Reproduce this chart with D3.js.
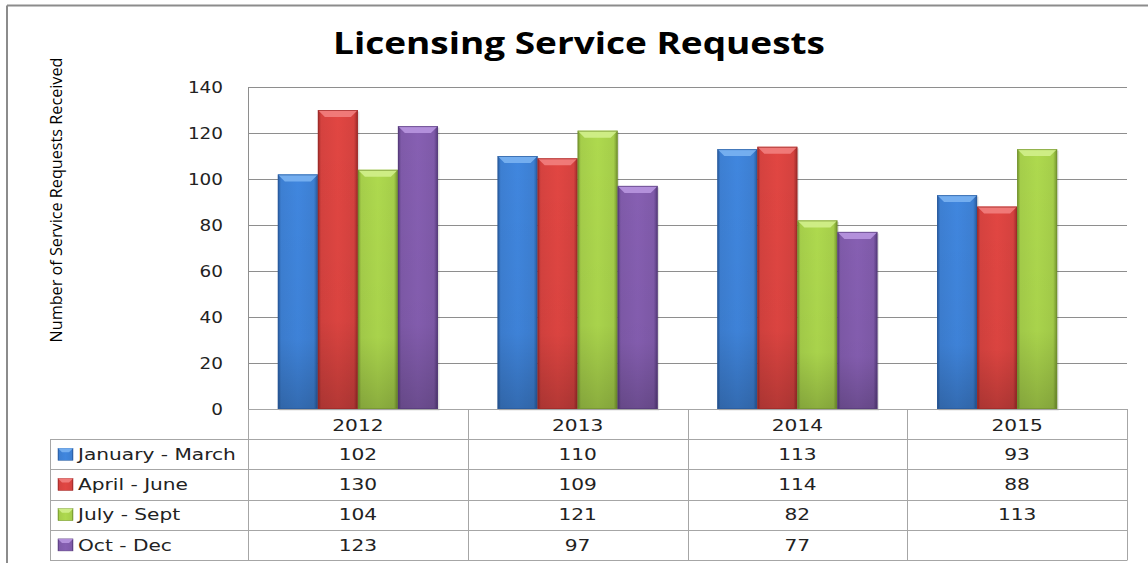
<!DOCTYPE html>
<html>
<head>
<meta charset="utf-8">
<script src="https://cdn.jsdelivr.net/npm/d3@7"></script>
<style>
  body { margin: 0; background: #fff; }
  svg { display: block; }
</style>
</head>
<body>
<div id="chart"></div>
<script>
// data
const years = ["2012", "2013", "2014", "2015"];
const quarters = ["January - March", "April - June", "July - Sept", "Oct - Dec"];
const janMar = [102, 110, 113, 93];
const aprJun = [130, 109, 114, 88];
const julSep = [104, 121, 82, 113];
const octDec = [123, 97, 77, null];
const yTicks = [0, 20, 40, 60, 80, 100, 120, 140];

const seriesValues = [janMar, aprJun, julSep, octDec];
// base, edge, top bevel
const colors = [
    { base: "#3d7fd2", edge: "#285a9c", top: "#7ab2f2", id: "gBlue" },
    { base: "#d5423f", edge: "#9c2a28", top: "#f2807e", id: "gRed" },
    { base: "#a5ce4a", edge: "#72922d", top: "#d2f08c", id: "gGreen" },
    { base: "#7f5aa9", edge: "#553a7b", top: "#b896e0", id: "gPurple" }
];

const W = 1148, H = 563;
const plot = { left: 248, right: 1127, top: 87, bottom: 409 };
const table = { left: 50, rowH: 30.2 };
const stretch = 1.26; // the picture's text is widened horizontally

let svg = d3.select("#chart")
    .append("svg")
    .attr("width", W)
    .attr("height", H);

// gradients for the bevelled bars
let defs = svg.append("defs");
colors.forEach(c => {
    let g = defs.append("linearGradient").attr("id", c.id)
        .attr("x1", "0%").attr("x2", "100%").attr("y1", "0%").attr("y2", "0%");
    g.append("stop").attr("offset", "0%").attr("stop-color", c.edge);
    g.append("stop").attr("offset", "8%").attr("stop-color", c.base);
    g.append("stop").attr("offset", "50%").attr("stop-color", d3.color(c.base).brighter(0.15));
    g.append("stop").attr("offset", "90%").attr("stop-color", c.base);
    g.append("stop").attr("offset", "100%").attr("stop-color", c.edge);
});
let shade = defs.append("linearGradient").attr("id", "shadeDown")
    .attr("x1", "0%").attr("x2", "0%").attr("y1", "0%").attr("y2", "100%");
shade.append("stop").attr("offset", "0%").attr("stop-color", "#000").attr("stop-opacity", 0);
shade.append("stop").attr("offset", "70%").attr("stop-color", "#000").attr("stop-opacity", 0.03);
shade.append("stop").attr("offset", "100%").attr("stop-color", "#000").attr("stop-opacity", 0.2);

// outer frame (left and top edges visible)
svg.append("line").attr("x1", 7).attr("x2", 7).attr("y1", 5.5).attr("y2", H)
    .attr("stroke", "#8c8c8c").attr("stroke-width", 2);
svg.append("line").attr("x1", 7).attr("x2", W).attr("y1", 5.5).attr("y2", 5.5)
    .attr("stroke", "#8c8c8c").attr("stroke-width", 2);

// title
svg.append("text")
    .attr("x", 579).attr("y", 54)
    .attr("text-anchor", "middle")
    .attr("textLength", 492)
    .attr("lengthAdjust", "spacingAndGlyphs")
    .style("font-family", "'Open Sans', sans-serif")
    .style("font-weight", "bold")
    .style("font-size", "30px")
    .text("Licensing Service Requests");

// scales
let yScale = d3.scaleLinear().domain([0, 140]).range([plot.bottom, plot.top]);
let xScale = d3.scaleBand().domain(years).range([plot.left, plot.right]);
let xInner = d3.scaleBand().domain(quarters).range([0, xScale.bandwidth()])
    .paddingInner(0).paddingOuter(0.745);

// gridlines
let grid = svg.append("g")
    .attr("transform", "translate(" + plot.left + ",0)")
    .call(d3.axisLeft(yScale).tickValues(yTicks).tickSize(-(plot.right - plot.left)).tickFormat(""));
grid.select(".domain").remove();
grid.selectAll(".tick line").attr("stroke", "#8e8e8e").attr("stroke-width", 1);

// y axis labels
let yAxis = svg.append("g")
    .attr("transform", "translate(" + plot.left + ",0)")
    .call(d3.axisLeft(yScale).tickValues(yTicks).tickSize(0).tickPadding(25));
yAxis.select(".domain").attr("stroke", "#8e8e8e");
yAxis.selectAll(".tick text")
    .attr("x", -25 / 1.15)
    .attr("transform", "scale(1.15,1)")
    .style("font-family", "'DejaVu Sans', Verdana, sans-serif")
    .style("font-size", "16px")
    .attr("fill", "#222");

// y axis title
svg.append("text")
    .attr("transform", "translate(62,200) rotate(-90)")
    .attr("text-anchor", "middle")
    .attr("textLength", 285)
    .attr("lengthAdjust", "spacingAndGlyphs")
    .style("font-family", "'Liberation Sans Narrow', 'Open Sans', sans-serif")
    .style("font-size", "16.5px")
    .style("font-weight", "500")
    .text("Number of Service Requests Received");

// bars
let barData = [];
years.forEach((yr, i) => {
    quarters.forEach((q, j) => {
        let v = seriesValues[j][i];
        if (v !== null) barData.push({ year: yr, quarter: q, value: v, s: j });
    });
});

let bars = svg.selectAll(".bar")
    .data(barData)
    .enter()
    .append("g")
    .attr("class", "bar");

bars.append("rect")
    .attr("x", d => xScale(d.year) + xInner(d.quarter) + 1.5)
    .attr("y", d => yScale(d.value) + 1.5)
    .attr("width", xInner.bandwidth())
    .attr("height", d => plot.bottom - yScale(d.value))
    .attr("fill", "#000").attr("opacity", 0.12);

bars.append("rect")
    .attr("x", d => xScale(d.year) + xInner(d.quarter))
    .attr("y", d => yScale(d.value))
    .attr("width", xInner.bandwidth())
    .attr("height", d => plot.bottom - yScale(d.value))
    .attr("fill", d => "url(#" + colors[d.s].id + ")");

bars.append("rect")
    .attr("x", d => xScale(d.year) + xInner(d.quarter))
    .attr("y", d => yScale(d.value))
    .attr("width", xInner.bandwidth())
    .attr("height", d => plot.bottom - yScale(d.value))
    .attr("fill", "url(#shadeDown)");

// top bevel
bars.append("path")
    .attr("d", d => {
        let x0 = xScale(d.year) + xInner(d.quarter);
        let x1 = x0 + xInner.bandwidth();
        let y0 = yScale(d.value);
        return "M" + x0 + "," + y0 + "L" + x1 + "," + y0 + "L" + (x1 - 7) + "," + (y0 + 7) +
            "L" + (x0 + 7) + "," + (y0 + 7) + "Z";
    })
    .attr("fill", d => colors[d.s].top)
    .attr("opacity", 0.9);

bars.append("rect")
    .attr("x", d => xScale(d.year) + xInner(d.quarter) + 0.5)
    .attr("y", d => yScale(d.value) + 0.5)
    .attr("width", xInner.bandwidth() - 1)
    .attr("height", d => plot.bottom - yScale(d.value) - 1)
    .attr("fill", "none")
    .attr("stroke", d => colors[d.s].edge)
    .attr("stroke-opacity", 0.7);

// data table
const lineCol = "#a6a6a6";
let tbl = svg.append("g").attr("class", "datatable");

// horizontal lines
tbl.append("line").attr("x1", plot.left).attr("x2", plot.right)
    .attr("y1", plot.bottom + 0.5).attr("y2", plot.bottom + 0.5).attr("stroke", lineCol);
d3.range(1, 6).forEach(i => {
    let yy = Math.round(plot.bottom + i * table.rowH) + 0.5;
    tbl.append("line").attr("x1", table.left).attr("x2", plot.right)
        .attr("y1", yy).attr("y2", yy).attr("stroke", lineCol);
});
// vertical lines
let tableBottom = Math.round(plot.bottom + 5 * table.rowH) + 0.5;
tbl.append("line").attr("x1", table.left + 0.5).attr("x2", table.left + 0.5)
    .attr("y1", Math.round(plot.bottom + table.rowH) + 0.5).attr("y2", tableBottom).attr("stroke", lineCol);
years.concat(["end"]).forEach(yr => {
    let xx = yr === "end" ? plot.right : xScale(yr);
    xx = Math.round(xx) + 0.5;
    tbl.append("line").attr("x1", xx).attr("x2", xx)
        .attr("y1", plot.bottom).attr("y2", tableBottom).attr("stroke", lineCol);
});

const tableFont = "'DejaVu Sans', Verdana, sans-serif";
function cellText(sel, x, y, anchor, txt) {
    sel.append("text")
        .attr("transform", "translate(" + x + "," + y + ") scale(" + stretch + ",1)")
        .attr("dy", "0.36em")
        .attr("text-anchor", anchor)
        .style("font-family", tableFont)
        .style("font-size", "16px")
        .attr("fill", "#222")
        .text(txt);
}

// year header
years.forEach(yr => {
    cellText(tbl, xScale(yr) + xScale.bandwidth() / 2, plot.bottom + table.rowH / 2 + 1, "middle", yr);
});

// legend keys + series names + values
quarters.forEach((q, j) => {
    let cy = plot.bottom + (j + 1.5) * table.rowH;
    tbl.append("rect")
        .attr("x", 58).attr("y", cy - 6).attr("width", 15).attr("height", 12)
        .attr("fill", "url(#" + colors[j].id + ")")
        .attr("stroke", colors[j].edge).attr("stroke-width", 0.5);
    tbl.append("path")
        .attr("d", "M58," + (cy - 6) + "L73," + (cy - 6) + "L69," + (cy - 2) + "L62," + (cy - 2) + "Z")
        .attr("fill", colors[j].top).attr("opacity", 0.9);
    cellText(tbl, 78, cy, "start", q);

    seriesValues[j].forEach((v, i) => {
        if (v !== null) cellText(tbl, xScale(years[i]) + xScale.bandwidth() / 2, cy, "middle", v);
    });
});
</script>
</body>
</html>
